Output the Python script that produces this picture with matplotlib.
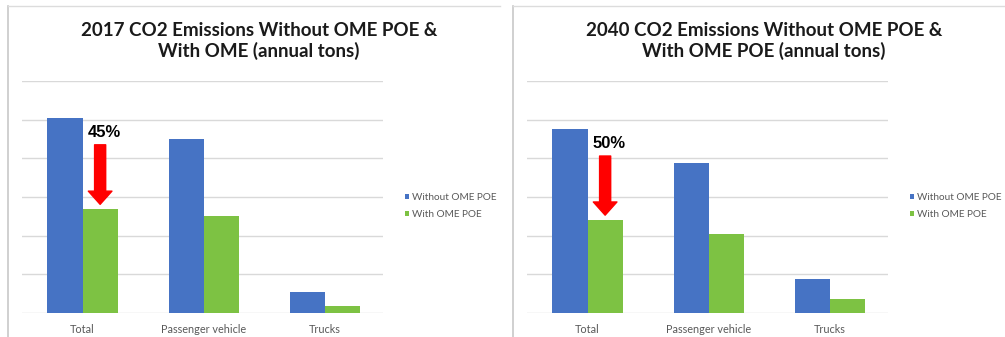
import matplotlib
matplotlib.use('Agg')

import matplotlib.pyplot as plt
from matplotlib.lines import Line2D
import numpy as np

# ── Data (annual tons, in gridline units) ───────────────────────────────────
categories = ["Total", "Passenger vehicle", "Trucks"]
series_names = ["Without OME POE", "With OME POE"]

without_2017 = [5.05, 4.50, 0.55]
with_2017 = [2.68, 2.50, 0.18]
without_2040 = [4.76, 3.88, 0.88]
with_2040 = [2.40, 2.05, 0.35]

reduction_labels = ["45%", "50%"]
titles = [
    "2017 CO2 Emissions Without OME POE &\nWith OME (annual tons)",
    "2040 CO2 Emissions Without OME POE &\nWith OME POE (annual tons)",
]

BLUE = '#4673C4'
GREEN = '#7DC243'
GRID = '#d9d9d9'
TEXT_GRAY = '#595959'
FONT = ['Lato', 'DejaVu Sans']

W, H = 1005, 337
fig = plt.figure(figsize=(W / 100, H / 100), dpi=100)
fig.patch.set_facecolor('white')


def px_axes(left, top, right, bottom):
    return fig.add_axes([left / W, 1 - bottom / H, (right - left) / W, (bottom - top) / H])


def draw_panel(x0, without, with_, label, title):
    # panel frame: thin left and top border
    fig.add_artist(Line2D([(x0 + 8) / W, (x0 + 8) / W], [0, 1 - 6 / H],
                          color='#c8c8c8', lw=1.2))
    fig.add_artist(Line2D([(x0 + 8) / W, min(x0 + 500, W) / W], [1 - 6 / H, 1 - 6 / H],
                          color='#dcdcdc', lw=1.0))

    fig.text((x0 + 259) / W, 1 - 41 / H, title, ha='center', va='center',
             fontsize=13.5, fontweight='bold', family=FONT, color='#1a1a1a',
             linespacing=1.22)

    ax = px_axes(x0 + 22, 81, x0 + 383, 313)
    x = np.arange(len(categories))
    bw = 0.29
    ax.bar(x - bw / 2, without, bw, color=BLUE, label=series_names[0], zorder=3)
    ax.bar(x + bw / 2, with_, bw, color=GREEN, label=series_names[1], zorder=3)

    ax.set_ylim(0, 6)
    ax.set_xlim(-0.5, 2.48)
    ax.set_yticks(np.arange(0, 7, 1))
    ax.set_yticklabels([])
    ax.yaxis.grid(True, color=GRID, lw=1.0, zorder=0)
    ax.tick_params(axis='both', length=0)
    for s in ax.spines.values():
        s.set_visible(False)
    ax.set_xticks(x)
    ax.set_xticklabels(categories, fontsize=7.8, color=TEXT_GRAY, family=FONT)
    ax.tick_params(axis='x', pad=8)
    ax.set_facecolor('none')

    # reduction arrow from above the green "Total" bar down to its top
    ax.annotate('', xy=(bw / 2, with_[0] + 0.13), xytext=(bw / 2, without[0] - 0.7),
                arrowprops=dict(arrowstyle='simple,head_width=1.7,head_length=0.95,tail_width=0.8',
                                color='#ff0000', mutation_scale=10, shrinkA=0, shrinkB=0),
                zorder=5)
    ax.text(0.04, without[0] - 0.37, label, ha='left', va='center', fontsize=12,
            fontweight='bold', family=['Liberation Sans', 'DejaVu Sans'], color='black')

    leg = ax.legend(loc='center left', bbox_to_anchor=((401 - 22) / 361, (313 - 206) / 232),
                    frameon=False, fontsize=7.2, handlelength=0.4, handleheight=0.4,
                    handletextpad=0.3, labelspacing=0.85, borderaxespad=0)
    for t in leg.get_texts():
        t.set_color(TEXT_GRAY)
        t.set_family(FONT)
    return ax


draw_panel(0, without_2017, with_2017, reduction_labels[0], titles[0])
draw_panel(505, without_2040, with_2040, reduction_labels[1], titles[1])

fig.savefig('out.png', dpi=100, facecolor='white')
plt.close(fig)
